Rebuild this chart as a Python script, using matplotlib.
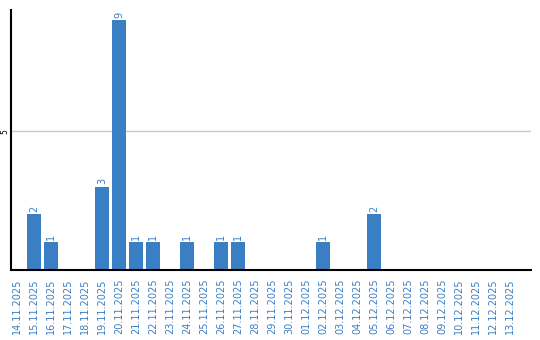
import matplotlib
matplotlib.use("Agg")
import matplotlib.pyplot as plt
import pandas as pd

# Daten
tage = pd.date_range("2025-11-14", "2025-12-13").strftime("%d.%m.%Y").tolist()
werte = [0, 2, 1, 0, 0, 3, 9, 1, 1, 0, 1, 0, 1, 1, 0,
         0, 0, 0, 1, 0, 0, 2, 0, 0, 0, 0, 0, 0, 0, 0]
y_ticks = [5]

blau = "#3a7ec3"

fig = plt.figure(figsize=(5.4, 3.4), dpi=100)
ax = fig.add_axes([10.5 / 540, 70 / 340, 520.5 / 540, 260 / 340])

x = list(range(len(tage)))
ax.bar(x, werte, width=0.82, color=blau, zorder=2)

# Werte ueber den Balken
for xi, w in zip(x, werte):
    if w > 0:
        ax.text(xi, w + 0.08, str(w), rotation=90, ha="center", va="bottom",
                fontsize=7, color=blau)

ax.set_xlim(-0.38, 30.24)
ax.set_ylim(0, 9.36)
ax.set_xticks(x)
ax.set_xticklabels(tage, rotation=90, fontsize=7, color=blau)
ax.set_yticks(y_ticks)
ax.set_yticklabels([str(t) for t in y_ticks], rotation=90, fontsize=5.5, va="center")
ax.tick_params(axis="x", length=0, pad=6)
ax.tick_params(axis="y", length=0, pad=0.5)
ax.yaxis.grid(True, color="#c8c8c8", linewidth=1, zorder=0)
ax.set_axisbelow(True)

for s in ["top", "right"]:
    ax.spines[s].set_visible(False)
ax.spines["left"].set_linewidth(1.5)
ax.spines["bottom"].set_linewidth(1.5)

fig.savefig("out.png", dpi=100)
